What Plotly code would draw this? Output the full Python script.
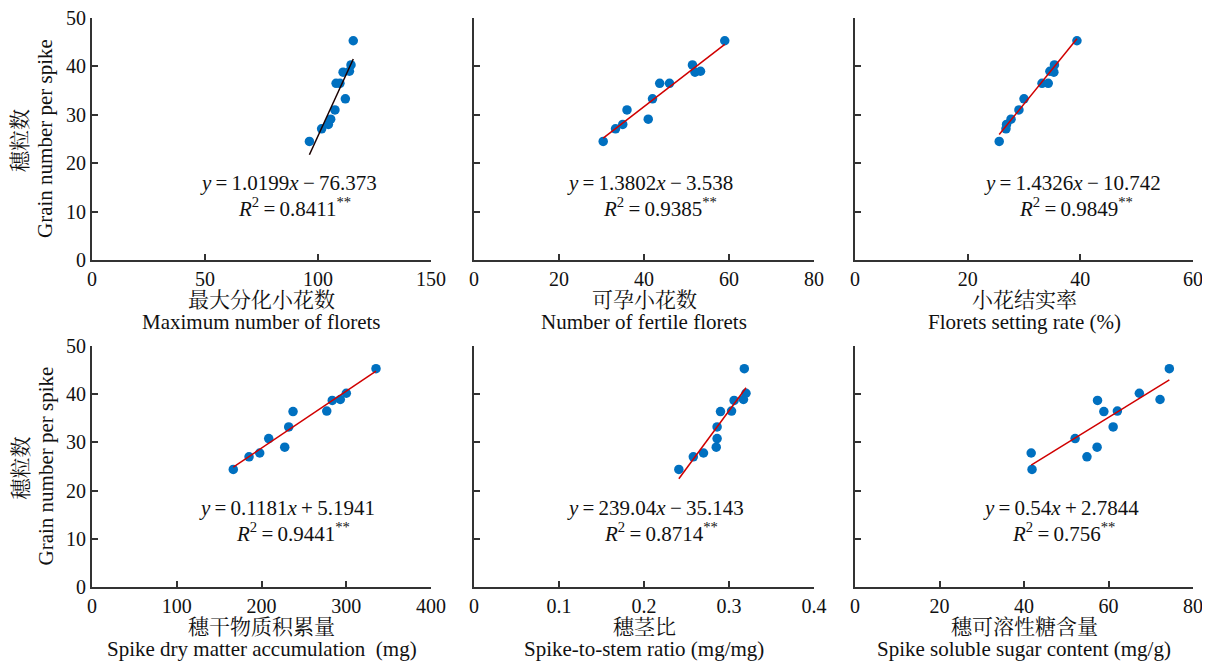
import numpy as np
import plotly.graph_objects as go

# ---- data ----
grain = [24.5, 27.1, 28.0, 29.1, 31.0, 33.3, 36.5, 36.5, 38.8, 39.0, 40.3, 45.3]

max_florets = [96.2, 101.6, 104.6, 105.6, 107.5, 112.1, 108.0, 109.7, 111.1, 113.9, 114.6, 115.6]
fertile_florets = [30.4, 33.3, 35.0, 41.0, 36.0, 42.0, 43.7, 46.0, 52.0, 53.3, 51.4, 59.0]
setting_rate = [25.6, 26.8, 26.9, 27.7, 29.1, 30.0, 33.2, 34.3, 35.3, 34.6, 35.4, 39.4]

grain_b = [24.4, 27.0, 27.8, 29.0, 30.8, 33.2, 36.4, 36.5, 38.7, 38.9, 40.2, 45.3]
dry_matter = [166.7, 185.3, 197.9, 227.4, 208.5, 232.1, 237.2, 277.0, 283.5, 293.0, 300.1, 335.1]
spike_stem = [0.241, 0.258, 0.270, 0.285, 0.286, 0.286, 0.290, 0.303, 0.306, 0.317, 0.320, 0.318]
sugar = [41.9, 54.9, 41.7, 57.3, 52.1, 61.1, 58.9, 62.1, 57.4, 72.2, 67.3, 74.4]

# printed equations
slopes = [1.0199, 1.3802, 1.4326, 0.1181, 239.04, 0.54]
intercepts = [-76.373, -3.538, -10.742, 5.1941, -35.143, 2.7844]
r2 = ["0.8411", "0.9385", "0.9849", "0.9441", "0.8714", "0.756"]
# whether the drawn line follows the printed equation (else a least-squares fit of the points)
line_from_equation = [True, False, True, True, True, True]

x_ranges = [[0, 150], [0, 80], [0, 60], [0, 400], [0, 0.4], [0, 80]]
x_dtick = [50, 20, 20, 100, 0.1, 20]
titles_cn = ["最大分化小花数", "可孕小花数", "小花结实率", "穗干物质积累量", "穗茎比", "穗可溶性糖含量"]
titles_en = ["Maximum number of florets", "Number of fertile florets", "Florets setting rate (%)",
             "Spike dry matter accumulation&nbsp;&nbsp;(mg)", "Spike-to-stem ratio (mg/mg)",
             "Spike soluble sugar content (mg/g)"]
y_title_cn = "穗粒数"
y_title_en = "Grain number per spike"

xs = [max_florets, fertile_florets, setting_rate, dry_matter, spike_stem, sugar]
ys = [grain, grain, grain, grain_b, grain_b, grain_b]

# ---- layout geometry (screen pixels; the page body adds an 8px offset) ----
OFF = 8
W, H = 1210 - OFF, 662 - OFF
col_px = [(92, 431), (474, 814), (855, 1193)]
row_px = [(18, 260), (346, 587)]

FONT = "Liberation Serif, Times New Roman, Noto Serif CJK SC, Noto Sans CJK SC, serif"
AX_COLOR = "#333333"
TXT = "#111111"
MARKER = "#0070C0"
LINE_COLORS = ["#1a0000", "#d00000", "#d00000", "#d00000", "#d00000", "#d00000"]
TS = "\u2009"  # thin space

fig = go.Figure()
annotations = []

def fx(px):
    return (px - OFF) / W

def fy(py):
    return 1 - (py - OFF) / H

eq_pos = [(288, 183, 294, 207), (650, 183, 660, 207), (1072, 183, 1076, 207),
          (287, 508, 293, 532), (655, 508, 661, 532), (1061, 508, 1063, 532)]

for i in range(6):
    r, c = divmod(i, 3)
    n = i + 1
    xa = "x" if n == 1 else f"x{n}"
    ya = "y" if n == 1 else f"y{n}"
    x0, x1 = col_px[c]
    y0, y1 = row_px[r]

    fig.add_trace(go.Scatter(x=xs[i], y=ys[i], mode="markers", xaxis=xa, yaxis=ya,
                             marker=dict(color=MARKER, size=9.5, line=dict(width=0)),
                             showlegend=False, hoverinfo="x+y", cliponaxis=False))
    if line_from_equation[i]:
        k, b = slopes[i], intercepts[i]
    else:
        k, b = np.polyfit(xs[i], ys[i], 1)
    lx = [min(xs[i]), max(xs[i])]
    ly = [k * v + b for v in lx]
    fig.add_trace(go.Scatter(x=lx, y=ly, mode="lines", xaxis=xa, yaxis=ya,
                             line=dict(color=LINE_COLORS[i], width=1.5),
                             showlegend=False, hoverinfo="skip"))

    xkey = "xaxis" if n == 1 else f"xaxis{n}"
    ykey = "yaxis" if n == 1 else f"yaxis{n}"
    fig.layout[xkey] = dict(domain=[fx(x0), fx(x1)], range=x_ranges[i], dtick=x_dtick[i],
                            tick0=0, anchor=ya, showgrid=False, zeroline=False,
                            showline=True, linecolor=AX_COLOR, linewidth=2,
                            ticks="inside", ticklen=6, tickwidth=1.5, tickcolor=AX_COLOR,
                            tickfont=dict(family=FONT, size=20, color=TXT),
                            ticklabeloverflow="allow",
                            automargin=False, fixedrange=True)
    fig.layout[ykey] = dict(domain=[fy(y1), fy(y0)], range=[0, 50], dtick=10, tick0=0,
                            anchor=xa, showgrid=False, zeroline=False,
                            showline=True, linecolor=AX_COLOR, linewidth=2,
                            ticks="inside", ticklen=6, tickwidth=1.5, tickcolor=AX_COLOR,
                            showticklabels=(c == 0),
                            tickfont=dict(family=FONT, size=20, color=TXT),
                            ticklabeloverflow="allow",
                            automargin=False, fixedrange=True)

    # x-axis titles (Chinese + English)
    cx = (x0 + x1) / 2
    annotations.append(dict(text=titles_cn[i], x=fx(cx), y=fy(y1 + 40), xref="paper", yref="paper",
                            showarrow=False, font=dict(family=FONT, size=21, color=TXT),
                            xanchor="center", yanchor="middle"))
    annotations.append(dict(text=titles_en[i], x=fx(cx), y=fy(y1 + 62), xref="paper", yref="paper",
                            showarrow=False, font=dict(family=FONT, size=21, color=TXT),
                            xanchor="center", yanchor="middle"))

    # equation + R2
    ex, ey, rx, ry = eq_pos[i]
    sign = "−" if intercepts[i] < 0 else "+"
    eq = f"<i>y</i>{TS}={TS}{slopes[i]:g}<i>x</i>{TS}{sign}{TS}{abs(intercepts[i]):g}"
    annotations.append(dict(text=eq, x=fx(ex), y=fy(ey), xref="paper", yref="paper",
                            showarrow=False, font=dict(family=FONT, size=21, color=TXT),
                            xanchor="center", yanchor="middle"))
    annotations.append(dict(text=f"<i>R</i><sup>2</sup>{TS}={TS}{r2[i]}<sup>**</sup>", x=fx(rx), y=fy(ry),
                            xref="paper", yref="paper", showarrow=False,
                            font=dict(family=FONT, size=21, color=TXT),
                            xanchor="center", yanchor="middle"))

# y-axis titles (left column)
for r in range(2):
    y0, y1 = row_px[r]
    cy = (y0 + y1) / 2
    annotations.append(dict(text=y_title_cn, x=fx(20), y=fy(cy + 2), xref="paper", yref="paper",
                            showarrow=False, textangle=-90,
                            font=dict(family=FONT, size=21, color=TXT),
                            xanchor="center", yanchor="middle"))
    annotations.append(dict(text=y_title_en, x=fx(45), y=fy(cy), xref="paper", yref="paper",
                            showarrow=False, textangle=-90,
                            font=dict(family=FONT, size=21, color=TXT),
                            xanchor="center", yanchor="middle"))

fig.update_layout(width=W, height=H, margin=dict(l=0, r=0, t=0, b=0, pad=0, autoexpand=False),
                  paper_bgcolor="white", plot_bgcolor="white",
                  annotations=annotations, showlegend=False,
                  font=dict(family=FONT, color=TXT))

fig.write_html("out.html")
